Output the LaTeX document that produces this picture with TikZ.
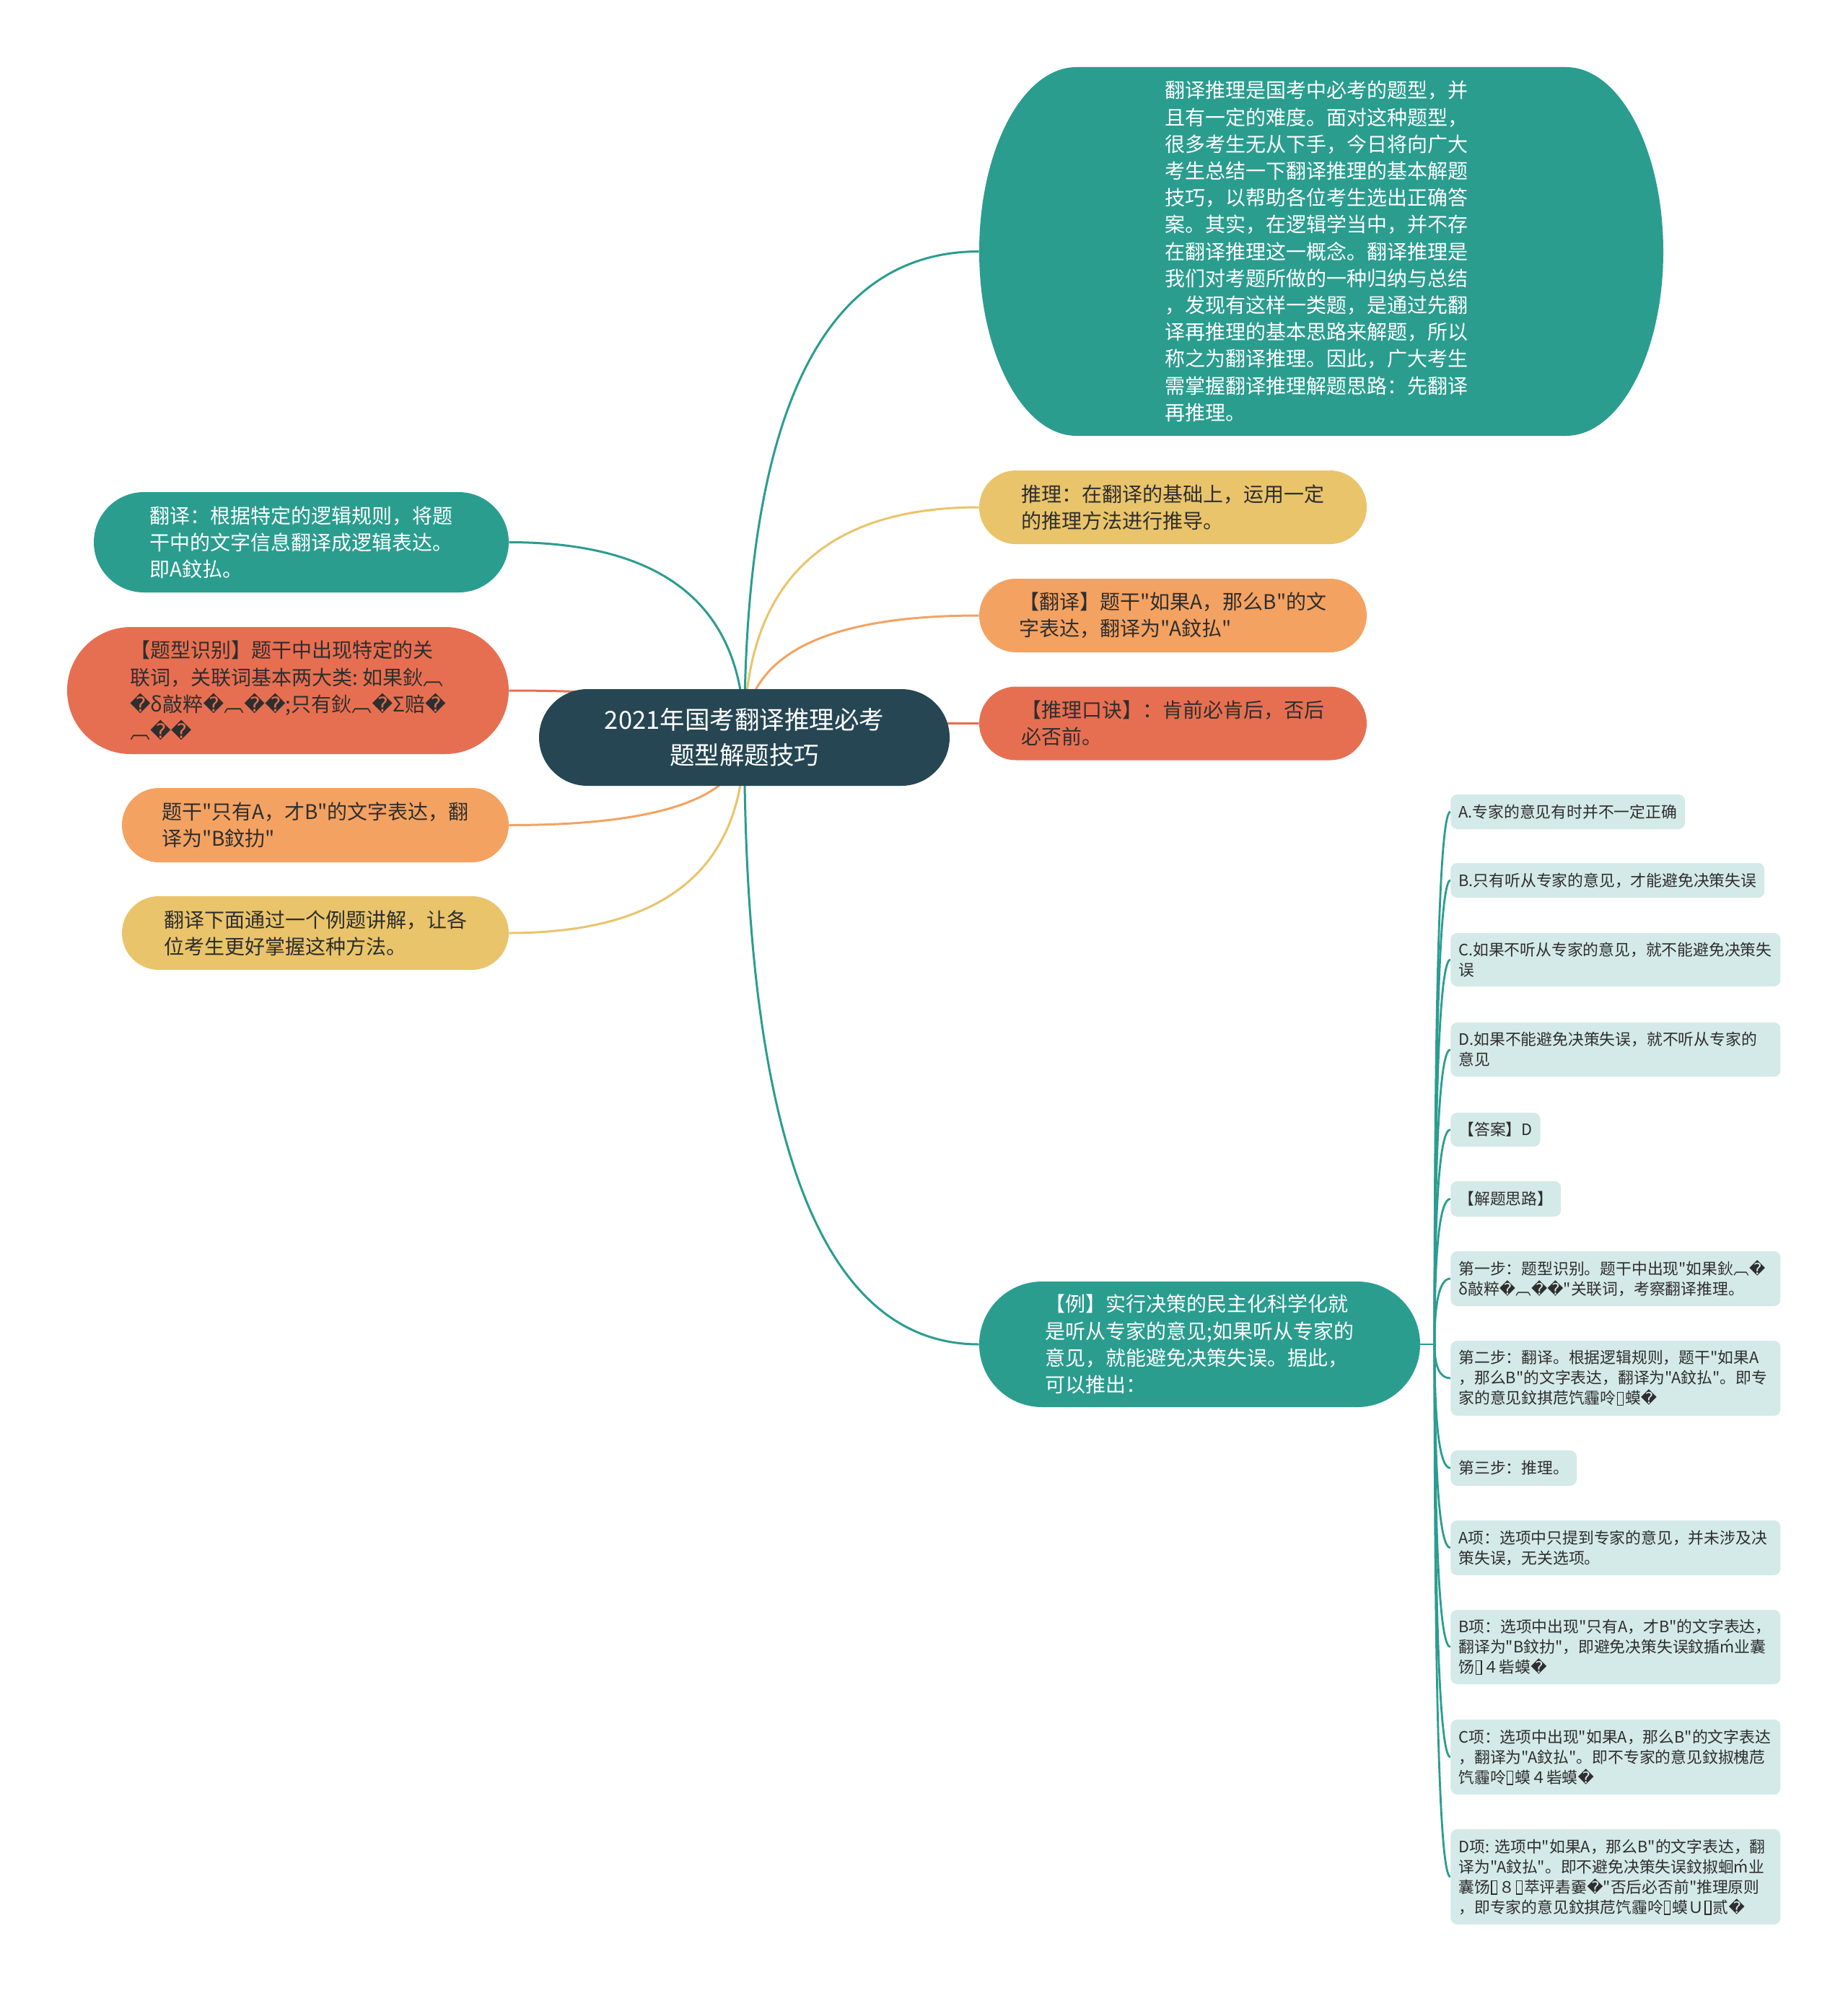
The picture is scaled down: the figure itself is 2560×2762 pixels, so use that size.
\documentclass[tikz,border=0pt]{standalone}
\usepackage{fontspec}
\setmainfont{Noto Sans CJK SC}
\newfontfamily\cjk{Noto Sans CJK SC}
\newfontfamily\dvs{DejaVu Sans}
\usetikzlibrary{calc}
\pgfdeclarelayer{bg}
\pgfsetlayers{bg,main}
\definecolor{cteal}{HTML}{2A9D8F}
\definecolor{cdark}{HTML}{264653}
\definecolor{cyel}{HTML}{E9C46A}
\definecolor{cora}{HTML}{F4A261}
\definecolor{cred}{HTML}{E76F51}
\definecolor{cleaf}{HTML}{D4EAE8}
\definecolor{ctxt}{HTML}{2E2E2E}
\newcommand\rp{{\dvs\char"FFFD}}
\newcommand\tofu{\kern0.06em\raisebox{-0.06em}{\fboxsep=0pt\fboxrule=0.055em\framebox[0.42em]{\rule{0pt}{0.8em}}}\kern0.1em}
\newcommand\fsroot{\cjk\fontsize{17.25pt}{24.5pt}\selectfont}
\newcommand\fsmid{\cjk\fontsize{14pt}{18.6pt}\selectfont}
\newcommand\fsleaf{\cjk\fontsize{10.9pt}{14pt}\selectfont}
\newcommand\qcurve[3]{\draw[#1] (#2) .. controls ($(#2)!0.6667!(#2 |- #3)$) and ($(#3)!0.6667!(#2 |- #3)$) .. (#3);}
\tikzset{
  mnode/.style={rectangle, inner sep=0pt, align=left, font=\fsmid, text=ctxt},
  wnode/.style={mnode, text=white},
  leaf/.style={rectangle, fill=cleaf, rounded corners=4.5pt, inner xsep=5.5pt, inner ysep=0pt, anchor=west, align=left, font=\fsleaf, text=ctxt},
  leafw/.style={leaf, text width=217.5pt},
  conn/.style={line width=1.5pt},
  lconn/.style={line width=1.4pt, cteal},
}
\begin{document}
\begin{tikzpicture}[x=0.5pt,y=-0.5pt]
\begin{pgfonlayer}{bg}
  \fill[white] (0,0) rectangle (2560,2762);
\end{pgfonlayer}
\useasboundingbox (0,0) rectangle (2560,2762);

% root
\node[rectangle, fill=cdark, text=white, font=\fsroot, align=center, inner sep=0pt,
      minimum width=284.5pt, minimum height=67pt, rounded corners=33.5pt] (root) at (1031.5,1022)
  {2021年国考翻译推理必考\\题型解题技巧};

% right side
\node[wnode, minimum width=467pt, minimum height=255.5pt] (big) at (1824,348.5)
  {翻译推理是国考中必考的题型，并\\且有一定的难度。面对这种题型，\\很多考生无从下手，今日将向广大\\考生总结一下翻译推理的基本解题\\技巧，以帮助各位考生选出正确答\\案。其实，在逻辑学当中，并不存\\在翻译推理这一概念。翻译推理是\\我们对考题所做的一种归纳与总结\\，发现有这样一类题，是通过先翻\\译再推理的基本思路来解题，所以\\称之为翻译推理。因此，广大考生\\需掌握翻译推理解题思路：先翻译\\再推理。};
\node[mnode, fill=cyel, minimum width=268.5pt, minimum height=51pt, rounded corners=25.5pt] (n1) at (1625.5,703)
  {推理：在翻译的基础上，运用一定\\的推理方法进行推导。};
\node[mnode, fill=cora, minimum width=268.5pt, minimum height=51pt, rounded corners=25.5pt] (n2) at (1625.5,853)
  {【翻译】题干"如果A，那么B"的文\\字表达，翻译为"A鈫払"};
\node[mnode, fill=cred, minimum width=268.5pt, minimum height=51pt, rounded corners=25.5pt] (n3) at (1625.5,1002.5)
  {【推理口诀】：肯前必肯后，否后\\必否前。};
\node[wnode, fill=cteal, minimum width=305.5pt, minimum height=87pt, rounded corners=43.5pt] (ex) at (1662.5,1863)
  {【例】实行决策的民主化科学化就\\是听从专家的意见;如果听从专家的\\意见，就能避免决策失误。据此，\\可以推出：};

% left side
\node[wnode, fill=cteal, minimum width=287.5pt, minimum height=69.5pt, rounded corners=34.75pt] (l1) at (417.5,751.5)
  {翻译：根据特定的逻辑规则，将题\\干中的文字信息翻译成逻辑表达。\\即A鈫払。};
\node[mnode, fill=cred, minimum width=306pt, minimum height=88pt, rounded corners=44pt] (l2) at (399,957)
  {【题型识别】题干中出现特定的关\\联词，关联词基本两大类:~如果鈥︹\\\rp{}δ敲粹\rp{}︹\rp{}\rp{};只有鈥︹\rp{}Σ赔\rp{}\\︹\rp{}\rp{}};
\node[mnode, fill=cora, minimum width=268pt, minimum height=51.5pt, rounded corners=25.75pt] (l3) at (437,1143.5)
  {题干"只有A，才B"的文字表达，翻\\译为"B鈫扐"};
\node[mnode, fill=cyel, minimum width=268pt, minimum height=51pt, rounded corners=25.5pt] (l4) at (437,1293)
  {翻译下面通过一个例题讲解，让各\\位考生更好掌握这种方法。};

% leaves
\node[leaf, minimum height=24pt] (la) at (2010,1125) {A.专家的意见有时并不一定正确};
\node[leaf, minimum height=24pt] (lb) at (2010,1220) {B.只有听从专家的意见，才能避免决策失误};
\node[leafw, minimum height=37pt] (lc) at (2010,1330) {C.如果不听从专家的意见，就不能避免决策失\\误};
\node[leafw, minimum height=37.5pt] (ld) at (2010,1454.5) {D.如果不能避免决策失误，就不听从专家的\\意见};
\node[leaf, minimum height=23.5pt] (lans) at (2010,1565.5) {【答案】D};
\node[leaf, minimum height=24.5pt] (lsol) at (2010,1661.5) {【解题思路】};
\node[leafw, minimum height=38pt] (s1) at (2010,1772) {第一步：题型识别。题干中出现"如果鈥︹\rp{}\\δ敲粹\rp{}︹\rp{}\rp{}"关联词，考察翻译推理。};
\node[leafw, minimum height=52pt] (s2) at (2010,1910) {第二步：翻译。根据逻辑规则，题干"如果A\\，那么B"的文字表达，翻译为"A鈫払"。即专\\家的意见鈫掑苊饩霾呤\tofu 蟆\rp{}};
\node[leaf, minimum height=24.5pt] (s3) at (2010,2034.5) {第三步：推理。};
\node[leafw, minimum height=38pt] (oa) at (2010,2145) {A项：选项中只提到专家的意见，并未涉及决\\策失误，无关选项。};
\node[leafw, minimum height=51.5pt] (ob) at (2010,2282.5) {B项：选项中出现"只有A，才B"的文字表达，\\翻译为"B鈫扐"，即避免决策失误鈫揗ḿ业囊\\饧\tofu ４砦蟆\rp{}};
\node[leafw, minimum height=52pt] (oc) at (2010,2435) {C项：选项中出现"如果A，那么B"的文字表达\\，翻译为"A鈫払"。即不专家的意见鈫掓槐苊\\饩霾呤\tofu 蟆４砦蟆\rp{}};
\node[leafw, minimum height=66pt] (od) at (2010,2601) {D项:~选项中"如果A，那么B"的文字表达，翻\\译为"A鈫払"。即不避免决策失误鈫掓蛔ḿ业\\囊饧\tofu ８\tofu 萃评砉嫑\rp{}"否后必否前"推理原则\\，即专家的意见鈫掑苊饩霾呤\tofu 蟆Ｕ\tofu 贰\rp{}};

\coordinate (exj) at (1988,1863);

\begin{pgfonlayer}{bg}
  \qcurve{conn,cteal}{root.center}{big.west}
  \qcurve{conn,cyel}{root.center}{n1.west}
  \qcurve{conn,cora}{root.center}{n2.west}
  \qcurve{conn,cred}{root.center}{n3.west}
  \qcurve{conn,cteal}{root.center}{ex.west}
  \qcurve{conn,cteal}{root.center}{l1.east}
  \qcurve{conn,cred}{root.center}{l2.east}
  \qcurve{conn,cora}{root.center}{l3.east}
  \qcurve{conn,cyel}{root.center}{l4.east}
  \draw[lconn] (ex.east) -- (exj);
  \qcurve{lconn}{exj}{la.west}
  \qcurve{lconn}{exj}{lb.west}
  \qcurve{lconn}{exj}{lc.west}
  \qcurve{lconn}{exj}{ld.west}
  \qcurve{lconn}{exj}{lans.west}
  \qcurve{lconn}{exj}{lsol.west}
  \qcurve{lconn}{exj}{s1.west}
  \qcurve{lconn}{exj}{s2.west}
  \qcurve{lconn}{exj}{s3.west}
  \qcurve{lconn}{exj}{oa.west}
  \qcurve{lconn}{exj}{ob.west}
  \qcurve{lconn}{exj}{oc.west}
  \qcurve{lconn}{exj}{od.west}
  \fill[cteal] (1492,93) -- (2170,93) .. controls (2244.6,93) and (2305,207.4) .. (2305,348.5)
    .. controls (2305,489.6) and (2244.6,604) .. (2170,604) -- (1492,604)
    .. controls (1417.4,604) and (1357,489.6) .. (1357,348.5)
    .. controls (1357,207.4) and (1417.4,93) .. (1492,93) -- cycle;
\end{pgfonlayer}
\end{tikzpicture}
\end{document}
